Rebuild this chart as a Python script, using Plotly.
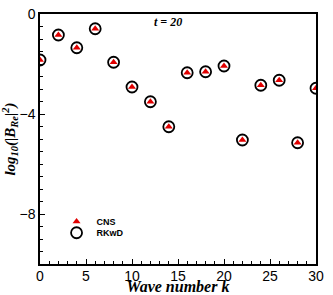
import plotly.graph_objects as go

k = [0, 2, 4, 6, 8, 10, 12, 14, 16, 18, 20, 22, 24, 26, 28, 30]
cns = [-1.84, -0.84, -1.35, -0.59, -1.93, -2.92, -3.51, -4.51, -2.35, -2.31,
       -2.08, -5.04, -2.85, -2.65, -5.15, -2.97]
rkwd = [-1.84, -0.84, -1.35, -0.59, -1.93, -2.92, -3.51, -4.51, -2.35, -2.31,
        -2.08, -5.04, -2.85, -2.65, -5.15, -2.97]

serif = "Liberation Serif"
sans = "Liberation Sans"

fig = go.Figure()
fig.add_trace(go.Scatter(
    x=k, y=rkwd, mode="markers", name="RKwD", legend="legend2",
    marker=dict(symbol="circle", size=11, color="white",
                line=dict(color="black", width=1.8)),
))
fig.add_trace(go.Scatter(
    x=k, y=cns, mode="markers", name="CNS", legend="legend",
    marker=dict(symbol="triangle-up", size=7, color="#e00000",
                line=dict(width=0)),
))

legfont = dict(family=sans, size=9, color="black", weight="bold")
fig.update_layout(
    width=333, height=295,
    margin=dict(l=40, r=17, t=14, b=31),
    paper_bgcolor="white", plot_bgcolor="white",
    showlegend=True,
    legend=dict(x=0.06, y=0.17, xanchor="left", yanchor="middle",
                bgcolor="rgba(0,0,0,0)", font=legfont),
    legend2=dict(x=0.06, y=0.125, xanchor="left", yanchor="middle",
                 bgcolor="rgba(0,0,0,0)", font=legfont),
    annotations=[dict(
        x=15.6, y=0, xref="x", yref="y", xanchor="right", yanchor="top",
        yshift=1,
        text="t = 20", showarrow=False,
        font=dict(family=serif, size=12, color="black", weight="bold", style="italic"),
    )],
)
fig.update_xaxes(
    range=[0, 30], tickvals=[0, 5, 10, 15, 20, 25, 30],
    ticks="inside", ticklen=5, tickwidth=1, tickcolor="black",
    minor=dict(dtick=1, ticks="inside", ticklen=3, tickcolor="black", showgrid=False),
    showgrid=False, zeroline=False, automargin=False,
    showline=True, linecolor="black", linewidth=1.5, mirror=True,
    tickfont=dict(family=sans, size=14, color="black"),
    ticklabelstandoff=-2,
    title=dict(text="Wave number k", standoff=3,
               font=dict(family=serif, size=16, color="black", weight="bold", style="italic")),
)
fig.update_yaxes(
    range=[-10, 0], tickvals=[0, -4, -8],
    ticks="inside", ticklen=5, tickwidth=1, tickcolor="black",
    minor=dict(dtick=0.5, ticks="inside", ticklen=3, tickcolor="black", showgrid=False),
    showgrid=False, zeroline=False, automargin=False,
    showline=True, linecolor="black", linewidth=1.5, mirror=True,
    tickfont=dict(family=sans, size=14, color="black"),
    title=dict(text="log<sub>10</sub>(|B<sub>Re</sub>|<sup>2</sup>)", standoff=2,
               font=dict(family=serif, size=15, color="black", weight="bold", style="italic")),
)

fig.write_html("out.html", config={"displayModeBar": False},
               post_script="document.body.style.margin='0';")
